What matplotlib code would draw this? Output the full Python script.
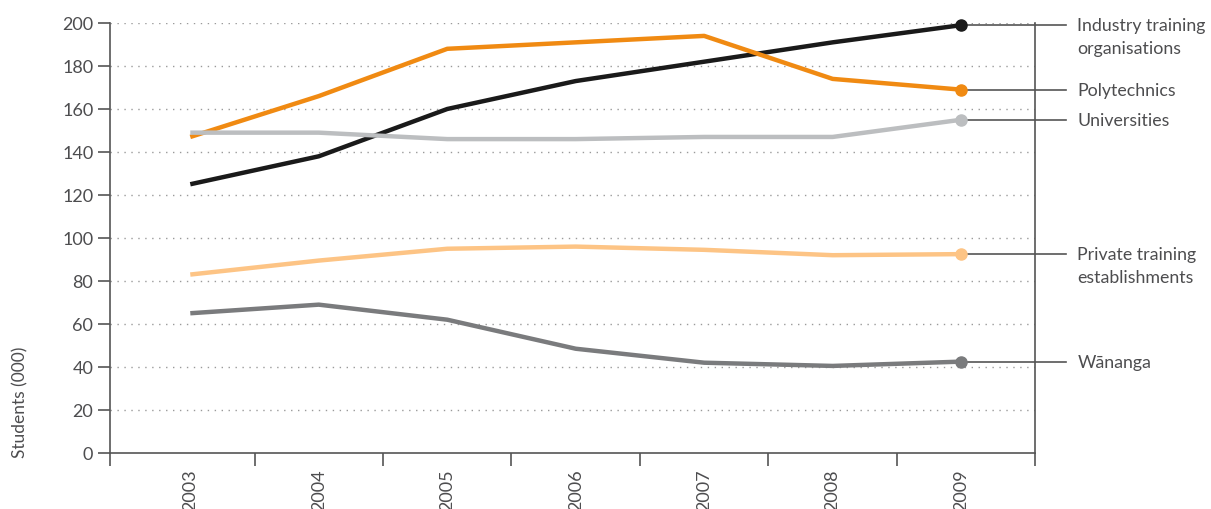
import numpy as np
import matplotlib.pyplot as plt

# Students (000) by provider type, 2003-2009
years = ['2003', '2004', '2005', '2006', '2007', '2008', '2009']
industry = [125, 138, 160, 173, 182, 191, 199]
polytechnics = [147, 166, 188, 191, 194, 174, 169]
universities = [149, 149, 146, 146, 147, 147, 155]
private = [83, 89.5, 95, 96, 94.5, 92, 92.5]
wananga = [65, 69, 62, 48.5, 42, 40.5, 42.5]

series = [
    (['Industry training', 'organisations'], industry, '#1a1a1a'),
    (['Polytechnics'], polytechnics, '#f08a12'),
    (['Universities'], universities, '#bcbec0'),
    (['Private training', 'establishments'], private, '#fdc485'),
    (['W\u0101nanga'], wananga, '#7a7b7d'),
]

plt.rcParams['font.family'] = ['Lato', 'DejaVu Sans']
txt = '#4d4d4f'

fig = plt.figure(figsize=(12.11, 5.10), dpi=100)
ax = fig.add_axes([110 / 1211, 1 - 454 / 510, 925 / 1211, 430 / 510])

x = np.arange(len(years))
for lines, vals, col in series:
    ax.plot(x, vals, color=col, lw=3.2, solid_capstyle='butt', zorder=3)
    # leader line to the label
    ax.plot([x[-1], 6.82], [vals[-1], vals[-1]], color='#555555', lw=1.2,
            clip_on=False, zorder=2)
    ax.plot(x[-1], vals[-1], 'o', color=col, ms=8, zorder=4, clip_on=False)
    # first line of the label sits level with the last value
    for i, line in enumerate(lines):
        ax.annotate(line, (6.905, vals[-1]), xytext=(0, -16.5 * i),
                    textcoords='offset points', color=txt, fontsize=12.8,
                    va='center', ha='left', annotation_clip=False)

ax.set_xlim(-0.625, 6.575)
ax.set_ylim(0, 200)

ax.set_yticks(np.arange(0, 201, 20))
ax.tick_params(axis='y', direction='out', length=9, width=1.2, color='#555555',
               labelcolor=txt, labelsize=13, pad=3)
for yv in range(20, 201, 20):
    ax.axhline(yv, color='#9a9a9a', lw=1, ls=(0, (1, 4)), zorder=1)

# tick marks between years, labels centred on each year
ax.set_xticks([-0.625, 0.5, 1.5, 2.5, 3.5, 4.5, 5.5, 6.575])
ax.set_xticklabels([])
ax.set_xticks(x, minor=True)
ax.set_xticklabels(years, minor=True, rotation=90)
ax.tick_params(axis='x', which='major', direction='out', length=9, width=1.2,
               color='#555555')
ax.tick_params(axis='x', which='minor', length=0, pad=11, labelcolor=txt,
               labelsize=13)

ax.spines['top'].set_visible(False)
for side in ['left', 'right', 'bottom']:
    ax.spines[side].set_color('#555555')
    ax.spines[side].set_linewidth(1.2)

fig.text(20 / 1211, 1 - 458 / 510, 'Students (000)', rotation=90, color=txt,
         fontsize=12.5, ha='center', va='bottom')

fig.savefig('out.png', dpi=100, facecolor='white')
